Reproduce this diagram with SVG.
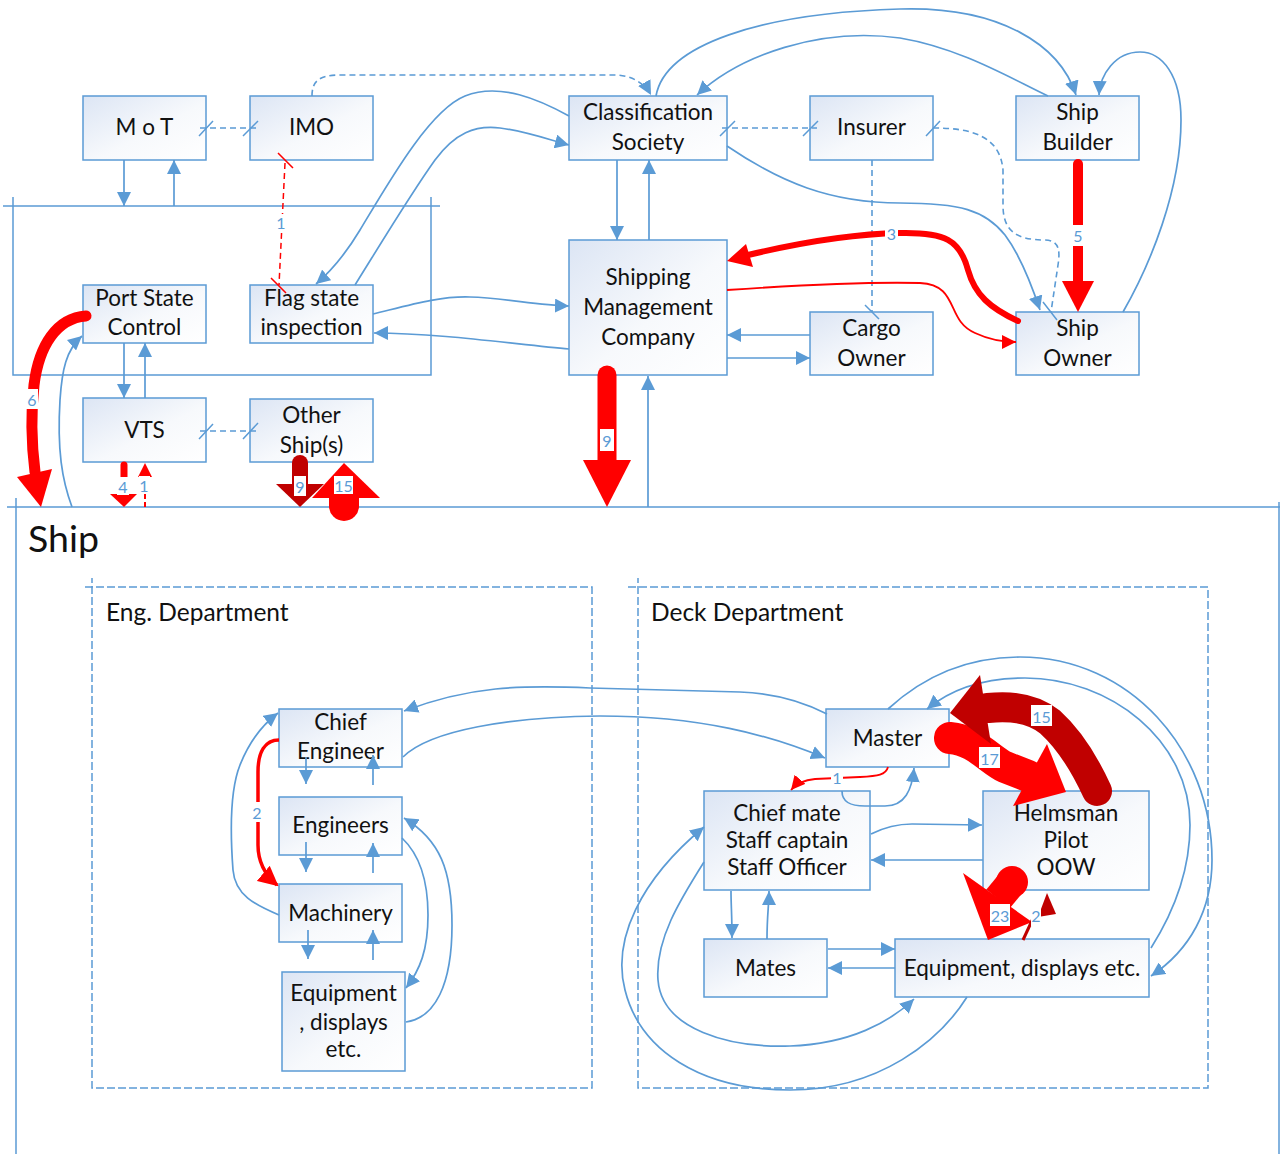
<svg xmlns="http://www.w3.org/2000/svg" width="1285" height="1154" viewBox="0 0 1285 1154">
  <defs>
    <linearGradient id="nodeFill" x1="0" y1="0" x2="1" y2="1">
      <stop offset="0" stop-color="#dce5f4"/>
      <stop offset="0.55" stop-color="#f7f9fc"/>
      <stop offset="1" stop-color="#ffffff"/>
    </linearGradient>
    <marker id="ab" markerUnits="userSpaceOnUse" markerWidth="14" markerHeight="14" viewBox="0 0 14 14" refX="14" refY="7" orient="auto">
      <path d="M0,0 L14,7 L0,14 z" fill="#5b9bd5"/>
    </marker>
    <marker id="ar" markerUnits="userSpaceOnUse" markerWidth="14" markerHeight="14" viewBox="0 0 14 14" refX="14" refY="7" orient="auto">
      <path d="M0,0 L14,7 L0,14 z" fill="#ff0000"/>
    </marker>
    <marker id="arL" markerUnits="userSpaceOnUse" markerWidth="20" markerHeight="20" viewBox="0 0 20 20" refX="18" refY="10" orient="auto">
      <path d="M0,0 L20,10 L0,20 z" fill="#ff0000"/>
    </marker>
  </defs>
  <style>
    .frame { fill: none; stroke: #5b9bd5; stroke-width: 1.5; }
    .dept { fill: none; stroke: #5b9bd5; stroke-width: 1.5; stroke-dasharray: 8 3; }
    .node rect { fill: url(#nodeFill); stroke: #5b9bd5; stroke-width: 1.5; }
    .node text { font-family: Lato, "Liberation Sans", sans-serif; font-size: 22.5px; fill: #111; text-anchor: middle; dominant-baseline: central; }
    .title { font-family: Lato, "Liberation Sans", sans-serif; fill: #111; dominant-baseline: central; }
    .c { fill: none; stroke: #5b9bd5; stroke-width: 1.7; marker-end: url(#ab); }
    .d { fill: none; stroke: #5b9bd5; stroke-width: 1.6; stroke-dasharray: 6 4; }
    .da { fill: none; stroke: #5b9bd5; stroke-width: 1.6; stroke-dasharray: 6 4; marker-end: url(#ab); }
    .tk { fill: none; stroke: #5b9bd5; stroke-width: 1.5; }
    .rtk { fill: none; stroke: #ff0000; stroke-width: 1.5; }
    .red { fill: #ff0000; }
    .dred { fill: #c00000; }
    .lb rect { fill: #ffffff; }
    .lb text { font-family: Lato, "Liberation Sans", sans-serif; font-size: 16px; fill: #5b9bd5; text-anchor: middle; dominant-baseline: central; }
  </style>

  <!-- shore-side authority frame -->
  <g id="authority-frame">
    <path class="frame" d="M3,206 H440 M13,197 V375 H431 V197"/>
  </g>

  <!-- ship frame and departments -->
  <g id="ship">
    <path class="frame" d="M7,507 H1280 M16,498 V1154 M1279,502 V1154"/>
    <text class="title" x="28" y="537" font-size="37.5">Ship</text>
  </g>
  <g id="eng-department">
    <path class="dept" d="M85,587 H592 V1088 H92 V578"/>
    <text class="title" x="106" y="611" font-size="24.5">Eng. Department</text>
  </g>
  <g id="deck-department">
    <path class="dept" d="M628,587 H1208 V1088 H638 V578"/>
    <text class="title" x="651" y="611" font-size="24.5">Deck Department</text>
  </g>

  <!-- nodes -->
  <g id="mot" class="node"><rect x="83" y="96" width="123" height="64"/><text x="144.5" y="126">M o T</text></g>
  <g id="imo" class="node"><rect x="250" y="96" width="123" height="64"/><text x="311.5" y="126">IMO</text></g>
  <g id="class-society" class="node"><rect x="569" y="96" width="158" height="64"/><text><tspan x="648" y="111">Classification</tspan><tspan x="648" y="141">Society</tspan></text></g>
  <g id="insurer" class="node"><rect x="810" y="96" width="123" height="64"/><text x="871.5" y="126">Insurer</text></g>
  <g id="ship-builder" class="node"><rect x="1016" y="96" width="123" height="64"/><text><tspan x="1077.5" y="111">Ship</tspan><tspan x="1077.5" y="141">Builder</tspan></text></g>
  <g id="port-state" class="node"><rect x="83" y="285" width="123" height="58"/><text><tspan x="144.5" y="297">Port State</tspan><tspan x="144.5" y="326">Control</tspan></text></g>
  <g id="flag-state" class="node"><rect x="250" y="285" width="123" height="58"/><text><tspan x="311.5" y="297">Flag state</tspan><tspan x="311.5" y="326">inspection</tspan></text></g>
  <g id="shipping-mgmt" class="node"><rect x="569" y="240" width="158" height="135"/><text><tspan x="648" y="276">Shipping</tspan><tspan x="648" y="306">Management</tspan><tspan x="648" y="336">Company</tspan></text></g>
  <g id="cargo-owner" class="node"><rect x="810" y="312" width="123" height="63"/><text><tspan x="871.5" y="327">Cargo</tspan><tspan x="871.5" y="357">Owner</tspan></text></g>
  <g id="ship-owner" class="node"><rect x="1016" y="312" width="123" height="63"/><text><tspan x="1077.5" y="327">Ship</tspan><tspan x="1077.5" y="357">Owner</tspan></text></g>
  <g id="vts" class="node"><rect x="83" y="398" width="123" height="64"/><text x="144.5" y="429">VTS</text></g>
  <g id="other-ships" class="node"><rect x="250" y="399" width="123" height="63"/><text><tspan x="311.5" y="414">Other</tspan><tspan x="311.5" y="444">Ship(s)</tspan></text></g>

  <g id="chief-engineer" class="node"><rect x="279" y="709" width="123" height="58"/><text><tspan x="340.5" y="721">Chief</tspan><tspan x="340.5" y="750">Engineer</tspan></text></g>
  <g id="engineers" class="node"><rect x="279" y="797" width="123" height="58"/><text x="340.5" y="824">Engineers</text></g>
  <g id="machinery" class="node"><rect x="279" y="884" width="123" height="58"/><text x="340.5" y="912">Machinery</text></g>
  <g id="eng-equipment" class="node"><rect x="282" y="972" width="123" height="99"/><text><tspan x="343.5" y="992">Equipment</tspan><tspan x="343.5" y="1021">, displays</tspan><tspan x="343.5" y="1048">etc.</tspan></text></g>

  <g id="master" class="node"><rect x="826" y="709" width="123" height="58"/><text x="887.5" y="737">Master</text></g>
  <g id="chief-mate" class="node"><rect x="704" y="791" width="166" height="99"/><text><tspan x="787" y="812">Chief mate</tspan><tspan x="787" y="839">Staff captain</tspan><tspan x="787" y="866">Staff Officer</tspan></text></g>
  <g id="helmsman" class="node"><rect x="983" y="791" width="166" height="99"/><text><tspan x="1066" y="812">Helmsman</tspan><tspan x="1066" y="839">Pilot</tspan><tspan x="1066" y="866">OOW</tspan></text></g>
  <g id="mates" class="node"><rect x="704" y="939" width="123" height="58"/><text x="765.5" y="967">Mates</text></g>
  <g id="deck-equipment" class="node"><rect x="895" y="939" width="254" height="58"/><text x="1022" y="967">Equipment, displays etc.</text></g>

  <!-- connectors -->
  <g id="connectors">
    <!-- shore side, blue -->
    <path class="c" d="M124,160 L124,206"/>
    <path class="c" d="M174,206 L174,160"/>
    <path class="c" d="M124,343 L124,398"/>
    <path class="c" d="M145,398 L145,343"/>
    <path class="c" d="M569,116 C540,100 500,82 465,96 C430,110 390,180 360,230 C345,255 330,272 316,284"/>
    <path class="c" d="M355,285 C380,245 410,195 435,160 C455,133 475,125 500,128 C525,131 550,140 569,145"/>
    <path class="c" d="M373,314 C410,305 440,296 470,297 C505,298 535,305 569,306"/>
    <path class="c" d="M569,349 C520,345 440,333 374,333"/>
    <path class="c" d="M617,160 L617,240"/>
    <path class="c" d="M649,240 L649,160"/>
    <path class="c" d="M810,335 L727,335"/>
    <path class="c" d="M727,358 L810,358"/>
    <path class="c" d="M656,96 C665,45 760,13 900,9 C1000,6 1060,45 1076,95"/>
    <path class="c" d="M1048,96 C1010,78 960,48 900,38 C820,27 740,55 697,95"/>
    <path class="c" d="M1123,312 C1150,265 1181,190 1181,120 C1181,75 1162,52 1140,52 C1115,52 1100,75 1099,95"/>
    <path class="c" d="M727,146 C780,182 830,203 900,203 C960,203 985,210 1005,235 C1020,255 1030,280 1040,310"/>

    <!-- dashed links with end ticks -->
    <path class="d" d="M200,128 L257,128"/>
    <path class="tk" d="M199,136 L213,121 M243,136 L258,121"/>
    <path class="da" d="M312,96 C312,82 318,75 340,75 L615,75 C632,75 645,84 651,95"/>
    <path class="d" d="M722,128 L817,128"/>
    <path class="tk" d="M720,136 L735,121 M803,136 L818,121"/>
    <path class="d" d="M933,128 C970,128 1000,135 1003,170 L1003,205 C1003,230 1015,240 1045,240 C1060,240 1060,252 1058,265 L1051,312"/>
    <path class="tk" d="M926,136 L940,121 M1043,302 L1057,320"/>
    <path class="d" d="M872,160 L872,312"/>
    <path class="tk" d="M865,305 L879,319"/>
    <path class="d" d="M200,431 L258,431"/>
    <path class="tk" d="M199,439 L213,424 M243,439 L258,423"/>

    <!-- shore side, red -->
    <path fill="none" stroke="#ff0000" stroke-width="1.5" stroke-dasharray="6 4" d="M285,163 L279,285"/>
    <path class="rtk" d="M278,153 L293,168 M271,278 L286,293"/>
    <g class="lb"><rect x="276" y="214" width="10" height="17"/><text x="281" y="222">1</text></g>

    <path fill="none" stroke="#ff0000" stroke-width="1.8" marker-end="url(#ar)" d="M727,290 C800,285 880,282 920,283 C960,285 945,320 975,333 C990,340 1003,342 1016,342"/>

    <path fill="none" stroke="#ff0000" stroke-width="6" stroke-linecap="round" d="M1018,321 C990,308 975,295 968,270 C960,240 945,232 900,233 C850,234 790,245 748,255"/>
    <polygon class="red" points="727,261 753,267 746,244"/>
    <g class="lb"><rect x="885" y="223" width="13" height="20"/><text x="891.5" y="233">3</text></g>

    <path fill="none" stroke="#ff0000" stroke-width="10" stroke-linecap="round" d="M1078,164 L1078,285"/>
    <polygon class="red" points="1062,281 1094,281 1078,312"/>
    <g class="lb"><rect x="1071" y="225" width="14" height="21"/><text x="1078" y="235">5</text></g>

    <path fill="none" stroke="#ff0000" stroke-width="11" stroke-linecap="round" d="M86,316 C57,318 39,345 34,385 C30,420 32,448 35,472"/>
    <polygon class="red" points="17,477 52,469 41,507"/>
    <g class="lb"><rect x="26" y="389" width="12" height="20"/><text x="32" y="399">6</text></g>

    <path class="c" d="M72,507 C62,480 57,450 60,400 C62,370 66,350 82,336"/>

    <path fill="none" stroke="#ff0000" stroke-width="7" stroke-linecap="round" d="M124,465 L124,495"/>
    <polygon class="red" points="110,494 137,494 124,507"/>
    <g class="lb"><rect x="117" y="477" width="12" height="18"/><text x="123" y="486">4</text></g>

    <path fill="none" stroke="#ff0000" stroke-width="2" stroke-dasharray="5 3" d="M145,507 L145,476"/>
    <polygon class="red" points="138,477 152,477 145,463"/>
    <g class="lb"><rect x="139" y="476" width="11" height="18"/><text x="144" y="485">1</text></g>

    <path fill="none" stroke="#c00000" stroke-width="16" stroke-linecap="round" d="M300,463 L300,488"/>
    <polygon class="dred" points="276,484 324,484 300,507"/>
    <g class="lb"><rect x="294" y="476" width="12" height="20"/><text x="300" y="486">9</text></g>

    <circle class="red" cx="344" cy="506" r="15"/>
    <path fill="none" stroke="#ff0000" stroke-width="30" d="M344,506 L344,494"/>
    <polygon class="red" points="312,498 380,498 344,463"/>
    <g class="lb"><rect x="334" y="476" width="19" height="18"/><text x="343.5" y="485">15</text></g>

    <path fill="none" stroke="#ff0000" stroke-width="19" stroke-linecap="round" d="M607,375 L607,462"/>
    <polygon class="red" points="583,460 631,460 607,507"/>
    <g class="lb"><rect x="600" y="429" width="14" height="22"/><text x="607" y="440">9</text></g>

    <path class="c" d="M648,507 L648,376"/>

    <!-- engine department -->
    <path class="c" d="M827,714 C800,700 770,693 740,692 L590,688 C520,685 470,686 404,711"/>
    <path class="c" d="M403,757 C430,730 510,717 600,716 C700,716 770,735 825,758"/>
    <path class="c" d="M279,915 C255,905 235,895 233,870 C230,830 230,790 240,765 C250,740 262,725 278,713"/>
    <path fill="none" stroke="#ff0000" stroke-width="3.5" marker-end="url(#arL)" d="M279,740 C265,740 258,752 258,772 L258,845 C258,862 264,874 277,885"/>
    <g class="lb"><rect x="251" y="802" width="12" height="20"/><text x="257" y="812">2</text></g>
    <path class="c" d="M306,757 L306,784"/>
    <path class="c" d="M373,785 L373,755"/>
    <path class="c" d="M306,842 L306,872"/>
    <path class="c" d="M373,873 L373,843"/>
    <path class="c" d="M308,930 L308,959"/>
    <path class="c" d="M373,960 L373,930"/>
    <path class="c" d="M402,838 C420,855 428,880 428,915 C428,950 420,970 406,988"/>
    <path class="c" d="M406,1022 C435,1018 452,985 452,925 C452,870 440,840 404,818"/>

    <!-- deck department -->
    <path class="c" d="M842,791 C842,802 850,806 865,806 L885,806 C905,806 912,790 914,768"/>
    <path fill="none" stroke="#ff0000" stroke-width="1.8" marker-end="url(#ar)" d="M888,767 C886,775 878,776 860,777 L815,779 C803,780 796,784 791,790"/>
    <g class="lb"><rect x="831" y="769" width="12" height="17"/><text x="837" y="777">1</text></g>
    <path class="c" d="M871,834 C885,827 898,824 912,824 L982,825"/>
    <path class="c" d="M983,860 L871,860"/>
    <path class="c" d="M731,891 C731,905 732,915 732,938"/>
    <path class="c" d="M767,939 C767,915 769,905 769,891"/>
    <path class="c" d="M828,949 L895,949"/>
    <path class="c" d="M895,968 L828,968"/>
    <path class="c" d="M967,997 C940,1040 880,1090 790,1090 C700,1090 640,1050 625,990 C612,940 640,880 704,827"/>
    <path class="c" d="M704,862 C680,900 655,940 658,980 C662,1030 730,1048 790,1046 C850,1044 890,1022 914,999"/>
    <path class="c" d="M888,709 C925,675 970,657 1020,657 C1130,657 1212,750 1212,860 C1212,910 1190,950 1151,976"/>
    <path class="c" d="M1151,948 C1175,910 1190,870 1190,825 C1190,740 1110,678 1025,678 C980,678 950,690 927,709"/>

    <!-- master to helmsman (17) -->
    <path fill="none" stroke="#ff0000" stroke-width="32" stroke-linecap="round" d="M950,738 C975,740 990,760 1005,767 L1028,776"/>
    <polygon class="red" points="1047,744 1013,806 1066,792"/>
    <g class="lb"><rect x="979" y="747" width="21" height="21"/><text x="989.5" y="758">17</text></g>

    <!-- helmsman to master (15) -->
    <path fill="none" stroke="#c00000" stroke-width="30" stroke-linecap="round" d="M1097,791 C1085,765 1070,740 1050,722 C1035,710 1015,705 988,708"/>
    <polygon class="dred" points="980,675 991,744 950,713"/>
    <g class="lb"><rect x="1031" y="705" width="21" height="21"/><text x="1041.5" y="716">15</text></g>

    <!-- helmsman to equipment (23) and back (2) -->
    <circle class="red" cx="1012" cy="882" r="16"/>
    <path fill="none" stroke="#ff0000" stroke-width="30" d="M1012,882 L998,899"/>
    <polygon class="red" points="963,873 1032,922 988,940"/>
    <g class="lb"><rect x="990" y="904" width="20" height="22"/><text x="1000" y="915">23</text></g>
    <path fill="none" stroke="#c00000" stroke-width="3" d="M1023,940 L1036,912"/>
    <polygon class="dred" points="1038,917 1056,914 1047,893"/>
    <g class="lb"><rect x="1031" y="904" width="10" height="22"/><text x="1036" y="915">2</text></g>
  </g>
</svg>
